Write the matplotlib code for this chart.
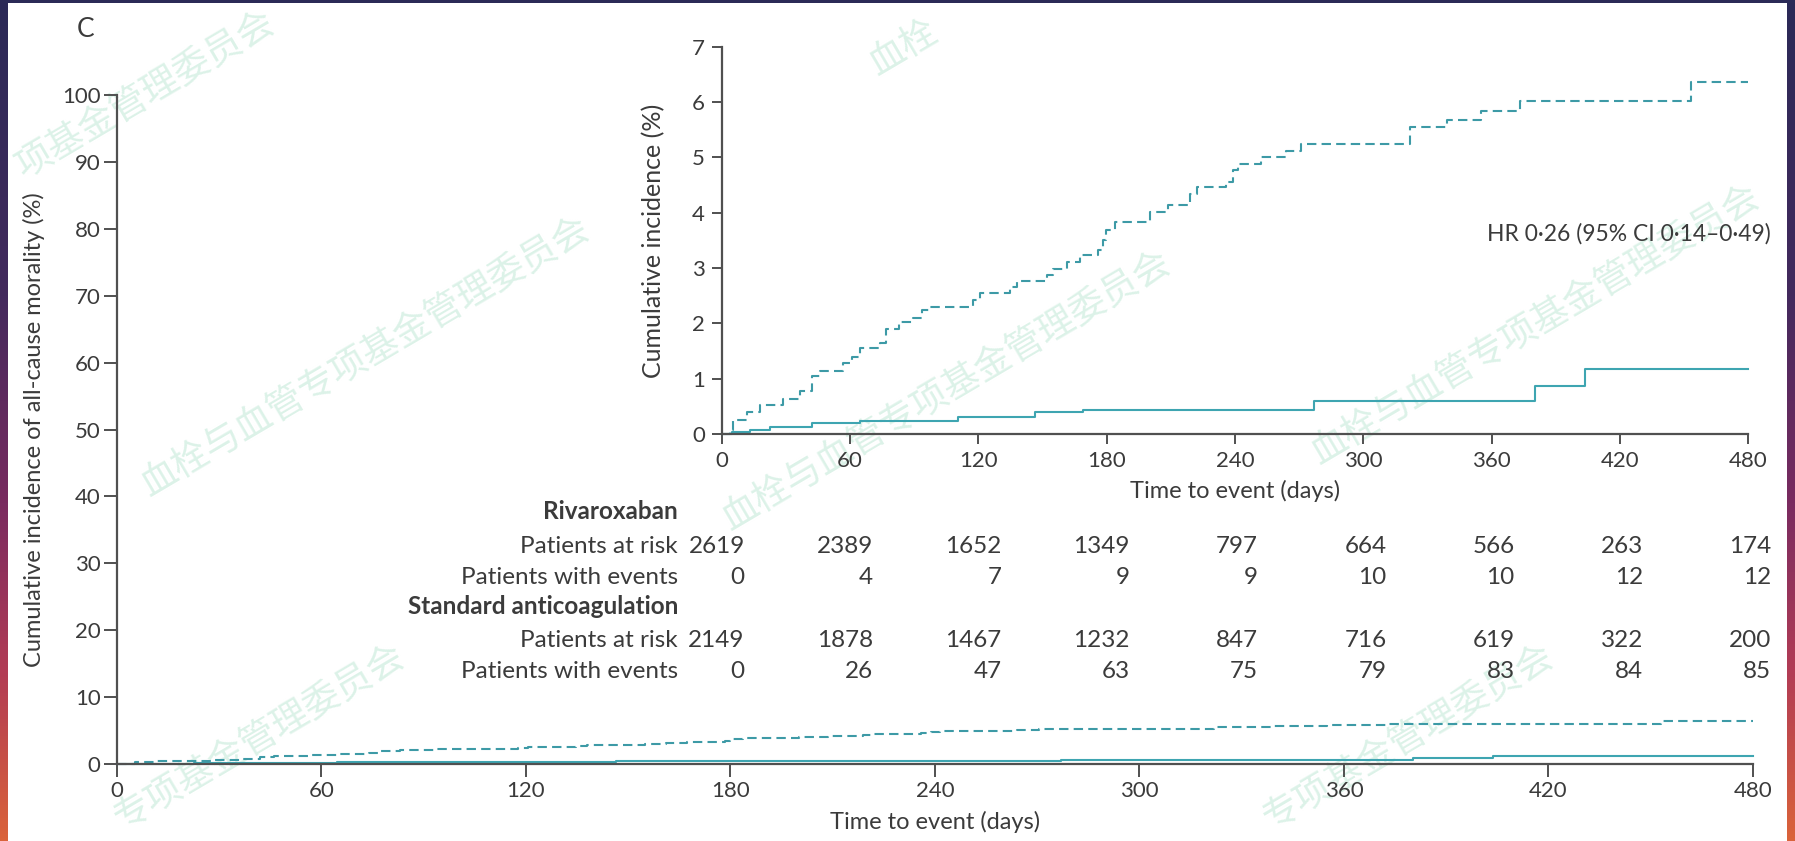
import matplotlib
matplotlib.use("Agg")
import matplotlib.pyplot as plt
import matplotlib.transforms as mtransforms
from matplotlib.patches import Rectangle
from matplotlib.colors import LinearSegmentedColormap
import numpy as np

W, H, DPI = 1795, 841, 100

# ---- data -------------------------------------------------------------
# Standard anticoagulation: cumulative incidence (%) step curve
std_days = [0, 4, 5.5, 11.7, 17.9, 28.8, 36.6, 42, 46, 56.9, 60.7, 64.6, 74, 77,
            83, 89.6, 93.5, 97.4, 117.6, 120.7, 134.7, 137.9, 152, 155, 161.2,
            167.4, 176, 178.3, 179.9, 183.8, 200.2, 208.7, 218.8, 222, 236, 239,
            241.6, 252, 264, 270.6, 322, 339, 355, 373, 453, 480]
std_inc = [0, 0.07, 0.25, 0.39, 0.52, 0.63, 0.77, 1.05, 1.13, 1.28, 1.40, 1.55,
           1.65, 1.89, 2.03, 2.09, 2.24, 2.30, 2.43, 2.54, 2.66, 2.77, 2.87, 2.99,
           3.11, 3.23, 3.33, 3.50, 3.69, 3.83, 4.02, 4.14, 4.34, 4.46, 4.56, 4.77,
           4.88, 5.00, 5.11, 5.24, 5.54, 5.67, 5.83, 6.02, 6.37, 6.37]

# Rivaroxaban: cumulative incidence (%) step curve
riv_days = [0, 4.7, 13.2, 22.6, 42, 64.6, 110.6, 146.4, 169, 277, 380.3, 403.7, 480]
riv_inc = [0, 0.03, 0.07, 0.12, 0.19, 0.23, 0.31, 0.39, 0.43, 0.60, 0.86, 1.17, 1.17]

time_ticks = [0, 60, 120, 180, 240, 300, 360, 420, 480]
main_yticks = [0, 10, 20, 30, 40, 50, 60, 70, 80, 90, 100]
inset_yticks = [0, 1, 2, 3, 4, 5, 6, 7]

riv_at_risk = [2619, 2389, 1652, 1349, 797, 664, 566, 263, 174]
riv_events = [0, 4, 7, 9, 9, 10, 10, 12, 12]
std_at_risk = [2149, 1878, 1467, 1232, 847, 716, 619, 322, 200]
std_events = [0, 26, 47, 63, 75, 79, 83, 84, 85]

hr_text = "HR 0\u00b726 (95% CI 0\u00b714\u20130\u00b749)"
watermark = "血栓与血管专项基金管理委员会"

# ---- style ------------------------------------------------------------
FONT = "Lato"
TXT = "#3b3b3b"
SPINE = "#505050"
C_STD = "#3d9aa6"
C_RIV = "#3ea5b1"
plt.rcParams["font.family"] = [FONT, "DejaVu Sans"]
plt.rcParams["text.color"] = TXT
plt.rcParams["axes.labelcolor"] = TXT
plt.rcParams["xtick.color"] = SPINE
plt.rcParams["ytick.color"] = SPINE
plt.rcParams["xtick.labelcolor"] = TXT
plt.rcParams["ytick.labelcolor"] = TXT

fig = plt.figure(figsize=(W / DPI, H / DPI), dpi=DPI)


def fx(x):
    return x / W


def fy(y):
    return 1 - y / H


# ---- frame and background ---------------------------------------------
bg = fig.add_axes([0, 0, 1, 1], zorder=-10)
bg.set_xlim(0, W)
bg.set_ylim(H, 0)
bg.axis("off")
frame_cmap = LinearSegmentedColormap.from_list(
    "frame", [(0.0, "#2b2a57"), (0.35, "#43295d"), (0.6, "#7a2b60"),
              (0.8, "#b23c55"), (1.0, "#da633a")])
grad = np.linspace(0, 1, 256).reshape(-1, 1)
bg.imshow(grad, cmap=frame_cmap, aspect="auto", extent=[0, W, H, 0])
bg.add_patch(Rectangle((8, 3), 1779, H - 3, facecolor="white", edgecolor="none"))

# diagonal watermark lines: centre of the full line, and the run of
# characters that falls inside the white page
WM_ANGLE = 30.5
WM_STEP = 36.9
wm_dir = np.array([np.cos(np.radians(WM_ANGLE)), -np.sin(np.radians(WM_ANGLE))])
wm_lines = [((50, 151), 6, 13), ((365, 357), 0, 13), ((180, 784), 5, 13),
            ((1094, -65), 0, 1), ((946, 391), 0, 13), ((1535, 325), 0, 13),
            ((1329, 784), 5, 13)]
mid = (len(watermark) - 1) / 2
for (cx, cy), i0, i1 in wm_lines:
    offset = ((i0 + i1) / 2 - mid) * WM_STEP
    px, py = np.array([cx, cy]) + offset * wm_dir
    bg.text(px, py, watermark[i0:i1 + 1], fontsize=26.5, color="#dcf2e8",
            rotation=WM_ANGLE, ha="center", va="center", rotation_mode="anchor",
            family=["Noto Sans CJK SC", "DejaVu Sans"])

# ---- main axes (0-100 %) ----------------------------------------------
ax = fig.add_axes([fx(116.7), fy(764), fx(1753 - 116.7), (764 - 95) / H])
ax.set_facecolor("none")
ax.step(std_days, std_inc, where="post", color=C_STD, lw=1.5,
        dashes=(4.5, 2.5), clip_on=False)
ax.step(riv_days, riv_inc, where="post", color=C_RIV, lw=1.5, clip_on=False)
ax.set_xlim(0, 480)
ax.set_ylim(0, 100)
ax.set_xticks(time_ticks)
ax.set_yticks(main_yticks)
for s in ("top", "right"):
    ax.spines[s].set_visible(False)
for s in ("left", "bottom"):
    ax.spines[s].set_color(SPINE)
    ax.spines[s].set_linewidth(1.6)
ax.tick_params(axis="both", length=9.5, width=1.4, labelsize=16)
ax.tick_params(axis="x", pad=3)
ax.tick_params(axis="y", pad=2)

fig.text(fx(935), fy(829), "Time to event (days)", ha="center", va="baseline",
         fontsize=17)
fig.text(fx(34), fy(430), "Cumulative incidence of all-cause morality (%)",
         rotation=90, ha="center", va="center", fontsize=17)
fig.text(fx(86), fy(37), "C", ha="center", va="baseline", fontsize=19)

# ---- inset axes (0-7 %) -----------------------------------------------
axi = fig.add_axes([fx(721.7), fy(434), fx(1748.4 - 721.7), (434 - 46.7) / H])
axi.set_facecolor("none")
axi.step(std_days, std_inc, where="post", color=C_STD, lw=1.5,
         dashes=(4.5, 2.5), clip_on=False)
axi.step(riv_days, riv_inc, where="post", color=C_RIV, lw=1.5, clip_on=False)
axi.set_xlim(0, 480)
axi.set_ylim(0, 7)
axi.set_xticks(time_ticks)
axi.set_yticks(inset_yticks)
for s in ("top", "right"):
    axi.spines[s].set_visible(False)
for s in ("left", "bottom"):
    axi.spines[s].set_color(SPINE)
    axi.spines[s].set_linewidth(1.6)
axi.tick_params(axis="both", length=7, width=1.4, labelsize=16)
axi.tick_params(axis="x", pad=5)
axi.tick_params(axis="y", pad=5)

fig.text(fx(1235), fy(498), "Time to event (days)", ha="center", va="baseline",
         fontsize=17)
fig.text(fx(654), fy(241), "Cumulative incidence (%)", rotation=90,
         ha="center", va="center", fontsize=18)
fig.text(fx(1771), fy(240.7), hr_text, ha="right", va="baseline", fontsize=16.5)

# ---- numbers at risk table ------------------------------------------------
num_tr = mtransforms.blended_transform_factory(
    axi.transData + mtransforms.ScaledTranslation(23 / DPI, 0, fig.dpi_scale_trans),
    fig.transFigure)

rows = [
    ("Rivaroxaban", None, 519.3, True),
    ("Patients at risk", riv_at_risk, 553.3, False),
    ("Patients with events", riv_events, 584.3, False),
    ("Standard anticoagulation", None, 614.3, True),
    ("Patients at risk", std_at_risk, 646.7, False),
    ("Patients with events", std_events, 678.3, False),
]
for label, values, ybase, bold in rows:
    fig.text(fx(678), fy(ybase), label, ha="right", va="baseline", fontsize=17.5,
             fontweight="bold" if bold else "normal")
    if values is not None:
        for t, v in zip(time_ticks, values):
            fig.text(t, fy(ybase), str(v), transform=num_tr, ha="right",
                     va="baseline", fontsize=17.5)

fig.savefig("out.png", dpi=DPI)
